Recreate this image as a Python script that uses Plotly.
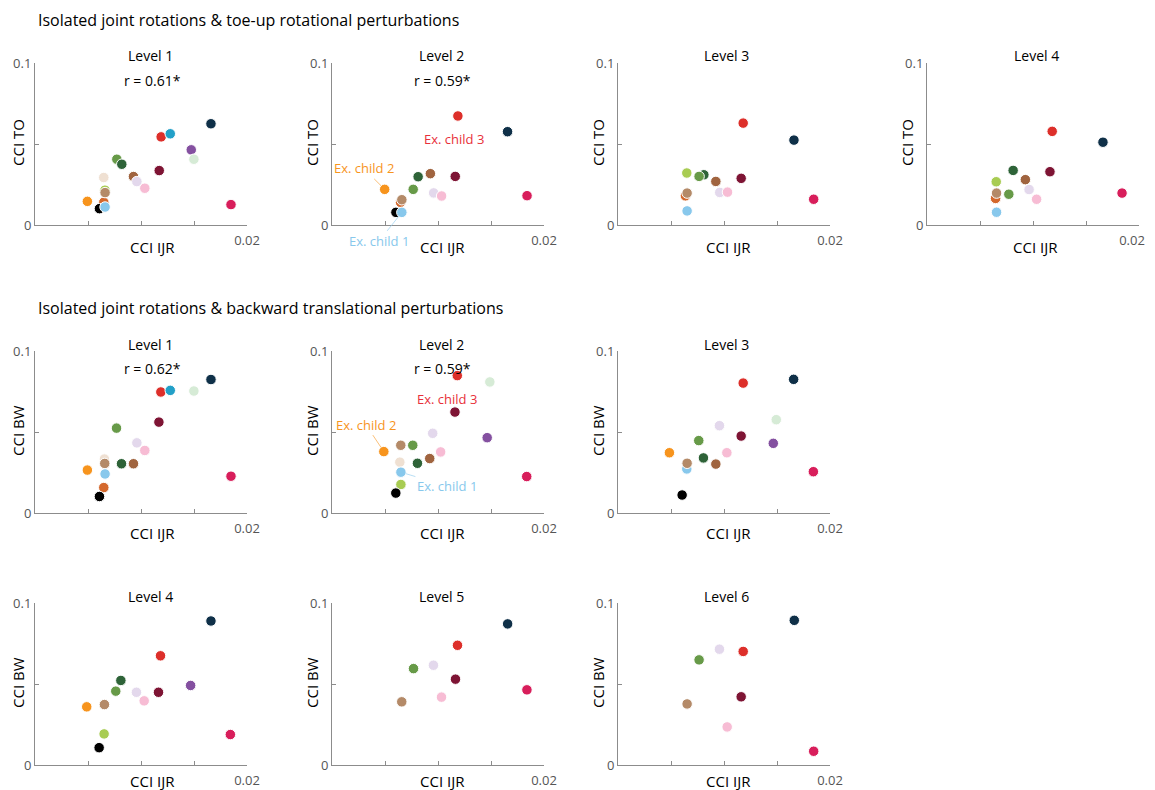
import plotly.graph_objects as go

# ---------------- participant colours ----------------
participant_colors = {
    "P01": "#000000",  # black
    "P02": "#0f3048",  # navy
    "P03": "#dd2f2a",  # red
    "P04": "#22a0c8",  # cyan
    "P05": "#8450a0",  # purple
    "P06": "#d6ebd6",  # mint
    "P07": "#d81e5b",  # crimson
    "P08": "#7e1434",  # maroon
    "P09": "#679a48",  # mid green
    "P10": "#2e6338",  # dark green
    "P11": "#a0643f",  # brown
    "P12": "#e3d8ec",  # lavender
    "P13": "#f7bcd4",  # pink
    "P14": "#b48a68",  # tan
    "P15": "#efe0d2",  # beige
    "P16": "#f7941d",  # orange
    "P17": "#d4682c",  # dark orange
    "P18": "#88c8ec",  # light blue
    "P19": "#a8cc52",  # yellow-green
}

# ---------------- data: TO, level 1 ----------------
to1_ids = ["P19", "P15", "P17", "P01", "P14", "P18", "P16", "P09", "P10", "P11", "P12", "P13",
           "P08", "P03", "P04", "P05", "P06", "P02", "P07"]
to1_ijr = [0.0066, 0.00649, 0.00649, 0.00608, 0.00661, 0.00661, 0.00494, 0.00772, 0.00819, 0.00929,
           0.00961, 0.01036, 0.01172, 0.0119, 0.01276, 0.01474, 0.01499, 0.0166, 0.01849]
to1_cci = [0.0215, 0.0293, 0.0140, 0.0101, 0.0200, 0.0111, 0.0146, 0.0406, 0.0375, 0.0299,
           0.0268, 0.0227, 0.0336, 0.0544, 0.0563, 0.0464, 0.0406, 0.0625, 0.0126]

# ---------------- data: TO, level 2 ----------------
to2_ids = ["P17", "P14", "P01", "P18", "P16", "P09", "P10", "P11", "P12", "P13", "P08", "P03", "P02", "P07"]
to2_ijr = [0.00647, 0.00659, 0.00603, 0.00659, 0.00497, 0.00766, 0.008125, 0.00928, 0.00959, 0.01034,
           0.011625, 0.011875, 0.01656, 0.0184]
to2_cci = [0.0140, 0.0156, 0.0078, 0.0078, 0.0220, 0.0220, 0.0298, 0.0317, 0.0198, 0.0179,
           0.0300, 0.0673, 0.0576, 0.0181]

# ---------------- data: TO, level 3 ----------------
to3_ids = ["P17", "P14", "P18", "P19", "P10", "P09", "P11", "P12", "P13", "P08", "P03", "P02", "P07"]
to3_ijr = [0.00636, 0.00652, 0.00652, 0.00649, 0.0081, 0.00765, 0.00923, 0.0096, 0.01033, 0.01162,
           0.01181, 0.0166, 0.01846]
to3_cci = [0.0180, 0.0197, 0.0087, 0.0321, 0.0310, 0.0300, 0.0269, 0.0201, 0.0203, 0.0288,
           0.0629, 0.0524, 0.0159]

# ---------------- data: TO, level 4 ----------------
to4_ids = ["P17", "P14", "P18", "P19", "P09", "P10", "P11", "P12", "P13", "P08", "P03", "P02", "P07"]
to4_ijr = [0.00647, 0.00656, 0.00656, 0.00653, 0.00772, 0.008125, 0.00928, 0.00963, 0.01034, 0.0116,
           0.01181, 0.0166, 0.0184]
to4_cci = [0.0164, 0.0197, 0.0079, 0.0267, 0.0190, 0.0337, 0.0280, 0.0219, 0.0159, 0.0329,
           0.0578, 0.0511, 0.0197]

# ---------------- data: BW, level 1 ----------------
bw1_ids = ["P15", "P14", "P17", "P01", "P18", "P16", "P09", "P10", "P11", "P12", "P13", "P08",
           "P03", "P04", "P06", "P02", "P07"]
bw1_ijr = [0.00655, 0.00658, 0.00649, 0.00608, 0.00661, 0.00494, 0.00769, 0.00816, 0.00929, 0.00961,
           0.01036, 0.01169, 0.01187, 0.01276, 0.01499, 0.0166, 0.01849]
bw1_cci = [0.0333, 0.0306, 0.0157, 0.0102, 0.0241, 0.0265, 0.0524, 0.0304, 0.0304, 0.0433,
           0.0386, 0.0561, 0.0747, 0.0757, 0.0753, 0.0824, 0.0227]

# ---------------- data: BW, level 2 ----------------
bw2_ids = ["P15", "P14", "P18", "P19", "P01", "P16", "P09", "P10", "P11", "P12", "P13", "P08",
           "P03", "P05", "P06", "P07"]
bw2_ijr = [0.0064, 0.00649, 0.0065, 0.0065, 0.00602, 0.00489, 0.00762, 0.00806, 0.00922, 0.0095,
           0.01025, 0.0116, 0.01182, 0.01464, 0.01489, 0.01837]
bw2_cci = [0.0314, 0.0418, 0.0252, 0.0176, 0.0123, 0.0379, 0.0418, 0.0307, 0.0336, 0.0492,
           0.0377, 0.0623, 0.0848, 0.0465, 0.0809, 0.0225]

# ---------------- data: BW, level 3 ----------------
bw3_ids = ["P18", "P14", "P01", "P16", "P09", "P10", "P11", "P12", "P13", "P08", "P03", "P05",
           "P06", "P02", "P07"]
bw3_ijr = [0.00649, 0.00652, 0.00605, 0.00485, 0.00762, 0.00806, 0.00923, 0.00957, 0.01027, 0.01162,
           0.01181, 0.01465, 0.01493, 0.01657, 0.01843]
bw3_cci = [0.0272, 0.0307, 0.0111, 0.0372, 0.0447, 0.0340, 0.0302, 0.0539, 0.0372, 0.0475,
           0.0802, 0.0430, 0.0576, 0.0825, 0.0255]

# ---------------- data: BW, level 4 ----------------
bw4_ids = ["P14", "P19", "P01", "P16", "P09", "P10", "P12", "P13", "P08", "P03", "P05", "P02", "P07"]
bw4_ijr = [0.00655, 0.00652, 0.00605, 0.00488, 0.00762, 0.0081, 0.00957, 0.0103, 0.01165, 0.01184,
           0.01468, 0.0166, 0.01843]
bw4_cci = [0.0373, 0.0192, 0.0107, 0.0359, 0.0456, 0.0522, 0.0449, 0.0396, 0.0449, 0.0674,
           0.0491, 0.0889, 0.0188]

# ---------------- data: BW, level 5 ----------------
bw5_ids = ["P14", "P09", "P12", "P13", "P08", "P03", "P02", "P07"]
bw5_ijr = [0.00658, 0.00769, 0.00957, 0.01033, 0.01165, 0.01184, 0.01657, 0.01839]
bw5_cci = [0.0390, 0.0595, 0.0616, 0.0419, 0.0530, 0.0739, 0.0871, 0.0464]

# ---------------- data: BW, level 6 ----------------
bw6_ids = ["P14", "P09", "P12", "P13", "P08", "P03", "P02", "P07"]
bw6_ijr = [0.00652, 0.00765, 0.00957, 0.0103, 0.01162, 0.01181, 0.01663, 0.01846]
bw6_cci = [0.0377, 0.0649, 0.0715, 0.0235, 0.0421, 0.0701, 0.0893, 0.0085]

# ---------------- panel texts ----------------
panel_titles = ["Level 1", "Level 2", "Level 3", "Level 4",
                "Level 1", "Level 2", "Level 3",
                "Level 4", "Level 5", "Level 6"]
panel_r = ["r = 0.61*", "r = 0.59*", "", "", "r = 0.62*", "r = 0.59*", "", "", "", ""]
panel_ylabels = ["CCI TO"] * 4 + ["CCI BW"] * 6
section_titles = ["Isolated joint rotations & toe-up rotational perturbations",
                  "Isolated joint rotations & backward translational perturbations"]
x_tick_vals = [0, 0.005, 0.01, 0.015, 0.02]
x_tick_text = ["", "", "", "", "0.02"]
y_tick_vals = [0, 0.05, 0.1]
y_tick_text = ["0", "", "0.1"]

panels = [
    (to1_ids, to1_ijr, to1_cci), (to2_ids, to2_ijr, to2_cci),
    (to3_ids, to3_ijr, to3_cci), (to4_ids, to4_ijr, to4_cci),
    (bw1_ids, bw1_ijr, bw1_cci), (bw2_ids, bw2_ijr, bw2_cci), (bw3_ids, bw3_ijr, bw3_cci),
    (bw4_ids, bw4_ijr, bw4_cci), (bw5_ids, bw5_ijr, bw5_cci), (bw6_ids, bw6_ijr, bw6_cci),
]

# ---------------- layout geometry (target pixels on the page) ----------------
W, H = 1155, 790
# the page body adds an 8 px inset; map target page pixels to paper fractions
OX, OY = 8.0, 8.0


def PX(px):
    return (px - OX) / W


def PY(py):
    return 1 - (py - OY) / H


col_left = [35, 332, 618, 927]
row_top = [63, 351, 603]
ax_w, ax_h = 212, 162
panel_pos = [(0, 0), (0, 1), (0, 2), (0, 3),
             (1, 0), (1, 1), (1, 2),
             (2, 0), (2, 1), (2, 2)]
title_cx = [150, 441, 727, 1036]
r_cx = [152, 442]
xlab_cx = [152, 442, 728, 1035]
ylab_x = [18, 312, 598, 907]
col_tick_shift = [0, 0, 0, -7]
title_dy = -7
r_dy = 17
xlab_dy = [22, 20, 16]

FONT = "Open Sans"
AXCOL = "#8c8c8c"

fig = go.Figure()
annotations = []
layout_axes = {}

for i, ((ids, xs, ys), (r, c)) in enumerate(zip(panels, panel_pos)):
    n = i + 1
    xa = "x" if n == 1 else f"x{n}"
    ya = "y" if n == 1 else f"y{n}"
    left = col_left[c]
    top = row_top[r]
    bottom = top + ax_h

    fig.add_trace(go.Scatter(
        x=xs, y=ys, mode="markers", xaxis=xa, yaxis=ya, showlegend=False,
        marker=dict(size=10.5, color=[participant_colors[p] for p in ids],
                    line=dict(color="white", width=1)),
        cliponaxis=False, hoverinfo="x+y",
    ))

    layout_axes["xaxis" if n == 1 else f"xaxis{n}"] = dict(
        domain=[PX(left), PX(left + ax_w)], range=[0, 0.02], anchor=ya,
        showline=True, linecolor=AXCOL, linewidth=1, showgrid=False, zeroline=False,
        ticks="inside", ticklen=4, tickcolor=AXCOL, tickvals=x_tick_vals, ticktext=x_tick_text,
        ticklabelstandoff=3, ticklabelshift=col_tick_shift[c],
        tickfont=dict(family=FONT, size=13, color="#555555"), fixedrange=True, automargin=False,
    )
    layout_axes["yaxis" if n == 1 else f"yaxis{n}"] = dict(
        domain=[PY(bottom), PY(top)], range=[0, 0.1], anchor=xa,
        showline=True, linecolor=AXCOL, linewidth=1, showgrid=False, zeroline=False,
        ticks="inside", ticklen=4, tickcolor=AXCOL, tickvals=y_tick_vals, ticktext=y_tick_text,
        tickfont=dict(family=FONT, size=13, color="#555555"), fixedrange=True, automargin=False,
    )

    # panel title
    annotations.append(dict(text=panel_titles[i], x=PX(title_cx[c]), y=PY(top + title_dy),
                            xref="paper", yref="paper", showarrow=False,
                            font=dict(family=FONT, size=14, color="black"),
                            xanchor="center", yanchor="middle"))
    if panel_r[i]:
        annotations.append(dict(text=panel_r[i], x=PX(r_cx[c]), y=PY(top + r_dy),
                                xref="paper", yref="paper", showarrow=False,
                                font=dict(family=FONT, size=14, color="black"),
                                xanchor="center", yanchor="middle"))
    # x-axis title
    annotations.append(dict(text="CCI IJR", x=PX(xlab_cx[c]), y=PY(bottom + xlab_dy[r]),
                            xref="paper", yref="paper", showarrow=False,
                            font=dict(family=FONT, size=15, color="black"),
                            xanchor="center", yanchor="middle"))
    # y-axis title
    annotations.append(dict(text=panel_ylabels[i], x=PX(ylab_x[c]), y=PY(top + ax_h / 2 - 1),
                            xref="paper", yref="paper", textangle=-90, showarrow=False,
                            font=dict(family=FONT, size=15, color="black"),
                            xanchor="center", yanchor="middle"))

# section titles
for txt, ypx in zip(section_titles, [20, 308]):
    annotations.append(dict(text=txt, x=PX(36), y=PY(ypx), xref="paper", yref="paper",
                            showarrow=False, font=dict(family=FONT, size=16, color="black"),
                            xanchor="left", yanchor="middle"))


# example-child labels (row 1, panel 2 and row 2, panel 2)
def child_label(text, color, xa, ya, px, py, ax, ay):
    return dict(text=text, x=px, y=py, xref=xa, yref=ya, showarrow=True, ax=ax, ay=ay,
                arrowhead=0, arrowwidth=0.6, arrowcolor=color, standoff=5, startstandoff=0,
                font=dict(family=FONT, size=13, color=color))


def plain_label(text, color, xa, ya, px, py, dx, dy):
    return dict(text=text, x=px, y=py, xref=xa, yref=ya, showarrow=False, xshift=dx, yshift=dy,
                font=dict(family=FONT, size=13, color=color))


i16 = to2_ids.index("P16"); i18 = to2_ids.index("P18"); i03 = to2_ids.index("P03")
annotations.append(child_label("Ex. child 2", "#f7941d", "x2", "y2", to2_ijr[i16], to2_cci[i16], -21, -21))
annotations.append(child_label("Ex. child 1", "#88c8ec", "x2", "y2", to2_ijr[i18], to2_cci[i18], -23, 29))
annotations.append(plain_label("Ex. child 3", "#e8303a", "x2", "y2", to2_ijr[i03], to2_cci[i03], -4, -23))

j16 = bw2_ids.index("P16"); j18 = bw2_ids.index("P18"); j08 = bw2_ids.index("P08")
annotations.append(child_label("Ex. child 2", "#f7941d", "x6", "y6", bw2_ijr[j16], bw2_cci[j16], -18, -27))
annotations.append(child_label("Ex. child 1", "#88c8ec", "x6", "y6", bw2_ijr[j18], bw2_cci[j18], 46, 14))
annotations.append(plain_label("Ex. child 3", "#e8303a", "x6", "y6", bw2_ijr[j08], bw2_cci[j08], -8, 13))

fig.update_layout(
    width=W, height=H, margin=dict(l=0, r=0, t=0, b=0),
    paper_bgcolor="white", plot_bgcolor="white",
    annotations=annotations, showlegend=False,
    **layout_axes,
)

fig.write_html("out.html")
